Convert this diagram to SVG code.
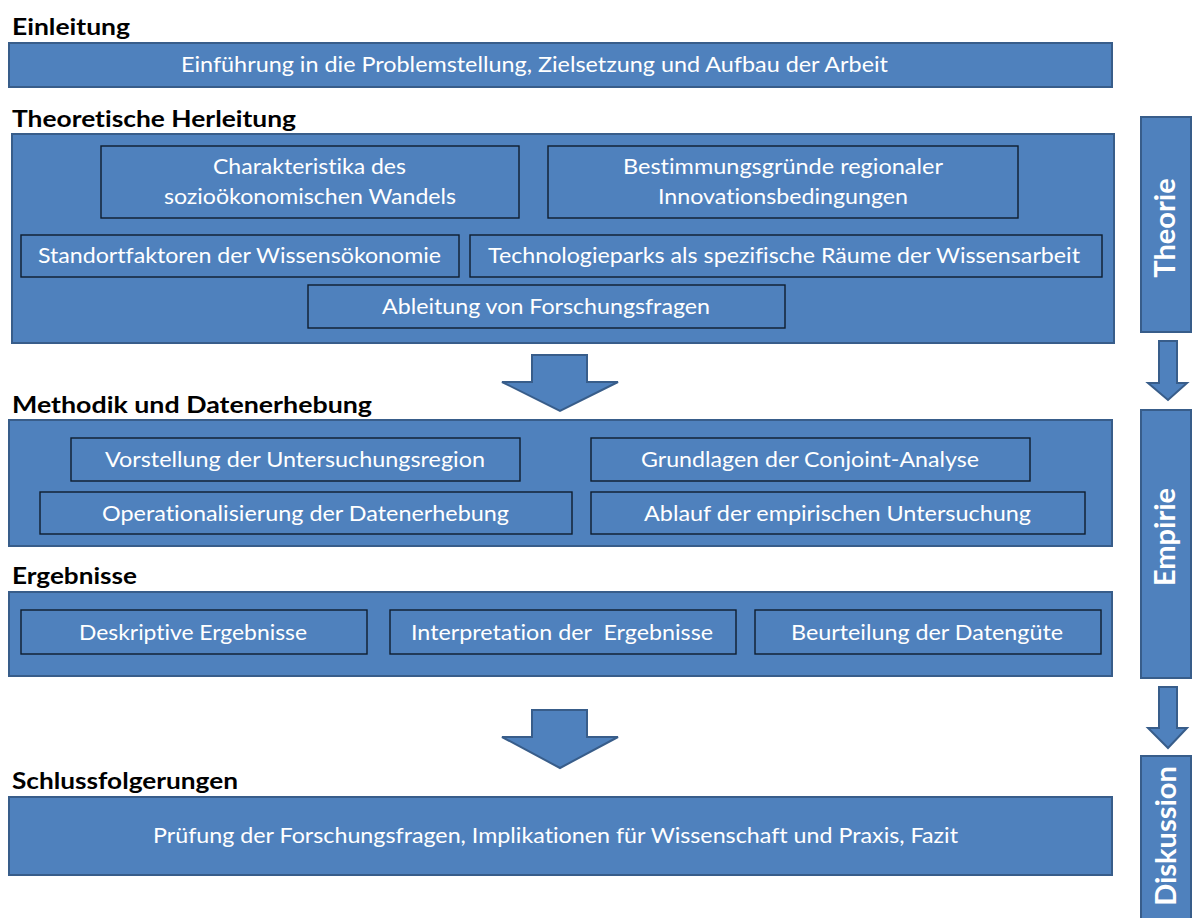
<svg xmlns="http://www.w3.org/2000/svg" width="1192" height="918" viewBox="0 0 1192 918">
  <style>
    .panel { fill: #4F81BD; stroke: #385D8A; stroke-width: 2; }
    .item { fill: #4F81BD; stroke: #0f1d2e; stroke-width: 1.4; }
    .arrow { fill: #4F81BD; stroke: #385D8A; stroke-width: 2; stroke-linejoin: miter; }
    text { font-variant-ligatures: none; font-feature-settings: "liga" 0, "dlig" 0; }
    .head { font-family: Lato, "Open Sans", sans-serif; font-weight: bold; font-size: 23px; fill: #000; }
    .lbl { font-family: Lato, "Open Sans", sans-serif; font-size: 21px; fill: #ffffff; text-anchor: middle; white-space: pre; }
    .side { font-family: Lato, "Open Sans", sans-serif; font-weight: bold; font-size: 29px; fill: #ffffff; text-anchor: middle; }
  </style>

  <rect width="1192" height="918" fill="#ffffff"/>

  <!-- Einleitung -->
  <g id="einleitung">
    <text class="head" x="12" y="35" textLength="118" lengthAdjust="spacingAndGlyphs">Einleitung</text>
    <rect class="panel" x="9" y="43" width="1103" height="44"/>
    <text class="lbl" x="534.5" y="72" textLength="707" lengthAdjust="spacingAndGlyphs">Einführung in die Problemstellung, Zielsetzung und Aufbau der Arbeit</text>
  </g>

  <!-- Theoretische Herleitung -->
  <g id="theorie-block">
    <text class="head" x="12" y="127" textLength="284" lengthAdjust="spacingAndGlyphs">Theoretische Herleitung</text>
    <rect class="panel" x="12" y="134" width="1102" height="209"/>
    <g id="charakteristika">
      <rect class="item" x="101" y="146" width="418" height="72"/>
      <text class="lbl" x="309.5" y="174" textLength="193" lengthAdjust="spacingAndGlyphs">Charakteristika des</text>
      <text class="lbl" x="310" y="204" textLength="292" lengthAdjust="spacingAndGlyphs">sozioökonomischen Wandels</text>
    </g>
    <g id="bestimmungsgruende">
      <rect class="item" x="548" y="146" width="470" height="72"/>
      <text class="lbl" x="783" y="174" textLength="320" lengthAdjust="spacingAndGlyphs">Bestimmungsgründe regionaler</text>
      <text class="lbl" x="783" y="204" textLength="250" lengthAdjust="spacingAndGlyphs">Innovationsbedingungen</text>
    </g>
    <g id="standortfaktoren">
      <rect class="item" x="21" y="235" width="438" height="42"/>
      <text class="lbl" x="239.5" y="263" textLength="403" lengthAdjust="spacingAndGlyphs">Standortfaktoren der Wissensökonomie</text>
    </g>
    <g id="technologieparks">
      <rect class="item" x="470" y="235" width="632" height="42"/>
      <text class="lbl" x="784" y="263" textLength="592" lengthAdjust="spacingAndGlyphs">Technologieparks als spezifische Räume der Wissensarbeit</text>
    </g>
    <g id="forschungsfragen">
      <rect class="item" x="308" y="285" width="477" height="43"/>
      <text class="lbl" x="546" y="314" textLength="328" lengthAdjust="spacingAndGlyphs">Ableitung von Forschungsfragen</text>
    </g>
  </g>

  <!-- Methodik und Datenerhebung -->
  <g id="methodik-block">
    <text class="head" x="12" y="413" textLength="360" lengthAdjust="spacingAndGlyphs">Methodik und Datenerhebung</text>
    <rect class="panel" x="9" y="420" width="1103" height="126"/>
    <g id="untersuchungsregion">
      <rect class="item" x="71" y="438" width="449" height="43"/>
      <text class="lbl" x="295" y="467" textLength="380" lengthAdjust="spacingAndGlyphs">Vorstellung der Untersuchungsregion</text>
    </g>
    <g id="conjoint">
      <rect class="item" x="591" y="438" width="439" height="43"/>
      <text class="lbl" x="810" y="467" textLength="338" lengthAdjust="spacingAndGlyphs">Grundlagen der Conjoint-Analyse</text>
    </g>
    <g id="operationalisierung">
      <rect class="item" x="40" y="492" width="532" height="42"/>
      <text class="lbl" x="305.5" y="521" textLength="407" lengthAdjust="spacingAndGlyphs">Operationalisierung der Datenerhebung</text>
    </g>
    <g id="ablauf">
      <rect class="item" x="591" y="492" width="494" height="42"/>
      <text class="lbl" x="837.5" y="521" textLength="387" lengthAdjust="spacingAndGlyphs">Ablauf der empirischen Untersuchung</text>
    </g>
  </g>

  <!-- Ergebnisse -->
  <g id="ergebnisse-block">
    <text class="head" x="12" y="584" textLength="125" lengthAdjust="spacingAndGlyphs">Ergebnisse</text>
    <rect class="panel" x="9" y="592" width="1103" height="84"/>
    <g id="deskriptiv">
      <rect class="item" x="21" y="610" width="346" height="44"/>
      <text class="lbl" x="193" y="640" textLength="228" lengthAdjust="spacingAndGlyphs">Deskriptive Ergebnisse</text>
    </g>
    <g id="interpretation">
      <rect class="item" x="390" y="610" width="346" height="44"/>
      <text class="lbl" x="562" y="640" textLength="302" lengthAdjust="spacingAndGlyphs" xml:space="preserve">Interpretation der  Ergebnisse</text>
    </g>
    <g id="datenguete">
      <rect class="item" x="755" y="610" width="346" height="44"/>
      <text class="lbl" x="927" y="640" textLength="272" lengthAdjust="spacingAndGlyphs">Beurteilung der Datengüte</text>
    </g>
  </g>

  <!-- Schlussfolgerungen -->
  <g id="schluss-block">
    <text class="head" x="12" y="789" textLength="226" lengthAdjust="spacingAndGlyphs">Schlussfolgerungen</text>
    <rect class="panel" x="9" y="797" width="1103" height="78"/>
    <text class="lbl" x="555.5" y="843" textLength="805" lengthAdjust="spacingAndGlyphs">Prüfung der Forschungsfragen, Implikationen für Wissenschaft und Praxis, Fazit</text>
  </g>

  <!-- Phase column on the right -->
  <g id="phase-theorie">
    <rect class="panel" x="1141" y="117" width="50" height="215"/>
    <text class="side" transform="translate(1175 228) rotate(-90)">Theorie</text>
  </g>
  <g id="phase-empirie">
    <rect class="panel" x="1141" y="410" width="50" height="268"/>
    <text class="side" transform="translate(1175 537) rotate(-90)">Empirie</text>
  </g>
  <g id="phase-diskussion">
    <rect class="panel" x="1141" y="756" width="50" height="170"/>
    <text class="side" transform="translate(1176 836) rotate(-90)">Diskussion</text>
  </g>

  <!-- Connectors: block arrows -->
  <g id="connectors">
    <path class="arrow" d="M532 355 H587 V382 H618 L560 411 L502 382 H532 Z"/>
    <path class="arrow" d="M532 710 H587 V737 H618 L560 768 L502 737 H532 Z"/>
    <path class="arrow" d="M1159 341 H1177 V383 H1187 L1168 400 L1148 383 H1159 Z"/>
    <path class="arrow" d="M1159 687 H1177 V728 H1187 L1168 748 L1148 728 H1159 Z"/>
  </g>
</svg>
